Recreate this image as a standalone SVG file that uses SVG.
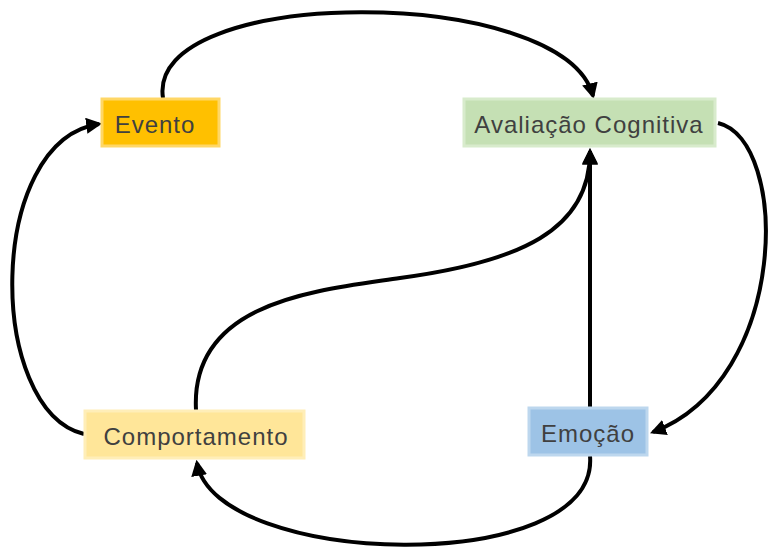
<svg xmlns="http://www.w3.org/2000/svg" width="768" height="547" viewBox="0 0 768 547">
<defs>
<marker id="ah" markerWidth="4" markerHeight="4" refX="3.2" refY="2" orient="auto" markerUnits="strokeWidth">
<path d="M0,0 L4,2 L0,4 Z" fill="#000"/>
</marker>
<style>
.lbl{font-family:"Liberation Sans","DejaVu Sans",sans-serif;font-size:24px;letter-spacing:1px;fill:#404040;text-anchor:middle;dominant-baseline:central}
.box{stroke-width:3}
.c{fill:none;stroke:#000;stroke-width:4;marker-end:url(#ah)}
</style>
</defs>
<rect width="768" height="547" fill="#fff"/>
<g id="connectors">
<path class="c" d="M163,98 C145,-16 565,-16 593,96"/>
<path class="c" d="M718,123 C790,140 790,380 653,432"/>
<path class="c" d="M590,407 L590,151"/>
<path class="c" d="M590,456 C600,578 215,568 197,463"/>
<path class="c" d="M196,410 C190,300 320,290 400,278 C520,262 590,230 590,152"/>
<path class="c" d="M84,434 C-14,410 -14,140 99,124"/>
</g>
<g id="evento">
<rect class="box" x="102" y="99" width="117" height="47" fill="#FFC000" stroke="#FFD766"/>
<text class="lbl" x="155" y="124">Evento</text>
</g>
<g id="avaliacao">
<rect class="box" x="464" y="99" width="251" height="47" fill="#C5E0B4" stroke="#D8EBCC"/>
<text class="lbl" x="589" y="124">Avaliação Cognitiva</text>
</g>
<g id="comportamento">
<rect class="box" x="85" y="411" width="219" height="47" fill="#FFE699" stroke="#FFEEB8"/>
<text class="lbl" x="196" y="436">Comportamento</text>
</g>
<g id="emocao">
<rect class="box" x="529" y="408" width="118" height="47" fill="#9DC3E6" stroke="#BDD7EE"/>
<text class="lbl" x="588" y="433">Emoção</text>
</g>
</svg>
